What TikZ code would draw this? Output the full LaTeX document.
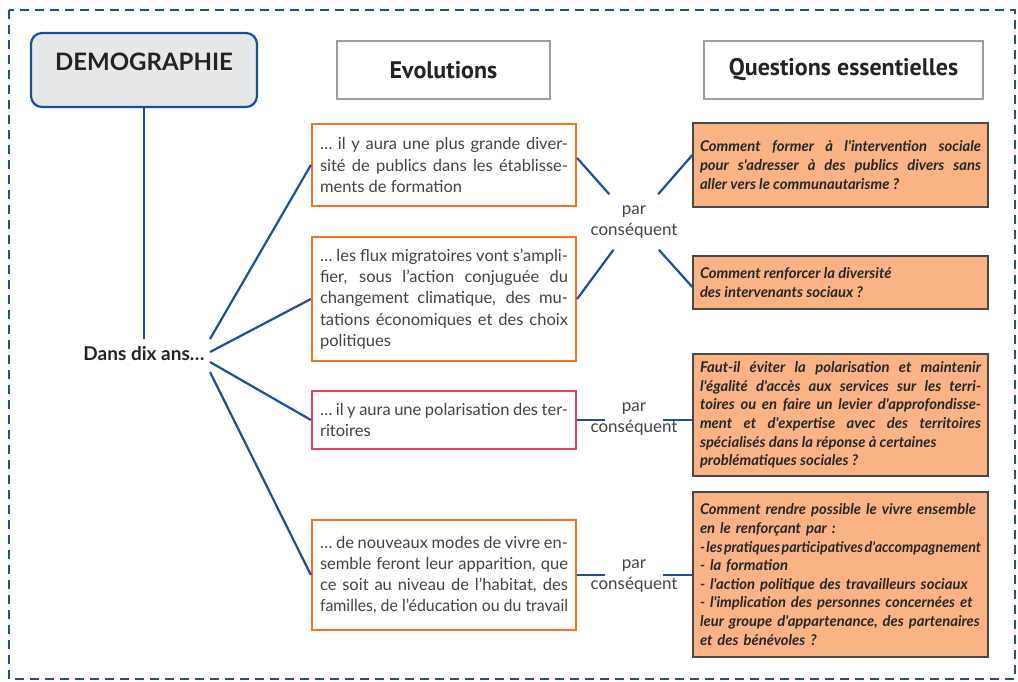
\documentclass[tikz,border=0pt]{standalone}
\usepackage{graphicx}
\usepackage{fontspec}
\setmainfont{Lato}
\newfontfamily\hdfont{PT Sans}
\newfontfamily\qfont{Lato}
\usetikzlibrary{calc}
\definecolor{lineblue}{RGB}{28,78,158}
\definecolor{evorange}{RGB}{243,115,35}
\definecolor{evpink}{RGB}{234,62,92}
\definecolor{qfill}{RGB}{249,179,132}
\definecolor{qborder}{RGB}{72,72,72}
\definecolor{hdgray}{RGB}{158,158,158}
\definecolor{demofill}{RGB}{231,232,233}
\definecolor{evtext}{RGB}{66,66,66}
\definecolor{qtext}{RGB}{38,38,38}
\definecolor{darktext}{RGB}{35,35,35}
\begin{document}
\begin{tikzpicture}[x=1pt,y=-1pt,
 conn/.style={draw=lineblue,line width=2.2pt},
 frame/.style={draw=lineblue,line width=2.5pt,dash pattern=on 9pt off 6pt},
 demobox/.style={draw=lineblue,line width=2.2pt,fill=demofill,rounded corners=11pt,minimum width=226pt,minimum height=74pt,font=\fontsize{24}{26}\selectfont\bfseries,text=darktext,text depth=16pt},
 hdbox/.style={draw=hdgray,line width=2pt,minimum height=58pt,font=\hdfont\fontsize{24}{26}\selectfont\bfseries,text=darktext},
 evbox/.style={draw=evorange,line width=2.2pt,text width=248pt,inner xsep=8pt,align=justify,minimum width=264pt,font=\fontsize{16.5}{21.3}\selectfont,text=evtext},
 qbox/.style={draw=qborder,fill=qfill,line width=1.4pt,text width=281pt,inner xsep=7pt,align=justify,minimum width=295pt,font=\qfont\fontsize{14.8}{18.6}\selectfont\bfseries\itshape,text=qtext},
 pcnode/.style={align=center,font=\fontsize{17}{21.5}\selectfont,text=evtext,inner sep=0pt},
 dansnode/.style={font=\fontsize{19}{21}\selectfont\bfseries,text=darktext,text height=14pt,text depth=3pt,inner ysep=7pt}
]
\useasboundingbox (0,0) rectangle (1018,681);
\draw[frame] (9,10) rectangle (1015,679);

\node[demobox] (demo) at (144,70) {DEMOGRAPHIE};
\node[hdbox,minimum width=213pt] (hev) at (443.5,70) {Evolutions};
\node[hdbox,minimum width=279pt] (hq) at (843.5,70) {Questions essentielles};

\node[dansnode] (dans) at (144,355) {Dans dix ans…};

\node[evbox,minimum height=82pt] (ev1) at (444,165) {\hyphenpenalty=10000 … il y aura une plus grande diver-\linebreak sité de publics dans les établisse-\linebreak ments de formation};
\node[evbox,minimum height=124pt] (ev2) at (444,299) {\hyphenpenalty=10000 … les flux migratoires vont s’ampli-\linebreak fier, sous l’action conjuguée du\linebreak changement climatique, des mu-\linebreak tations économiques et des choix\linebreak politiques};
\node[evbox,draw=evpink,minimum height=58pt] (ev3) at (444,420) {\hyphenpenalty=10000 … il y aura une polarisation des ter-\linebreak ritoires};
\node[evbox,minimum height=110pt] (ev4) at (444,575) {\hyphenpenalty=10000 … de nouveaux modes de vivre en-\linebreak semble feront leur apparition, que\linebreak ce soit au niveau de l’habitat, des\linebreak \resizebox{248pt}{\height}{familles, de l’éducation ou du travail}};

\node[qbox,minimum height=84pt] (q1) at (840.5,165) {\hyphenpenalty=10000 Comment former à l'intervention sociale\linebreak pour s'adresser à des publics divers sans\linebreak aller vers le communautarisme ?};
\node[qbox,minimum height=53pt] (q2) at (840.5,282.5) {Comment renforcer la diversité\\des intervenants sociaux ?};
\node[qbox,minimum height=122pt] (q3) at (840.5,415) {\hyphenpenalty=10000 Faut-il éviter la polarisation et maintenir\linebreak l'égalité d'accès aux services sur les terri-\linebreak toires ou en faire un levier d'approfondisse-\linebreak ment et d'expertise avec des territoires\linebreak spécialisés dans la réponse à certaines\\problématiques sociales ?};
\node[qbox,align=left,minimum height=165pt] (q4) at (840.5,574.5) {Comment rendre possible le vivre ensemble\\en le renforçant par :\\\resizebox{281pt}{\height}{\spaceskip=1.6pt\relax - les pratiques participatives d'accompagnement}\\- la formation\\- l'action politique des travailleurs sociaux\\- l'implication des personnes concernées et\\leur groupe d'appartenance, des partenaires\\et des bénévoles ?};

\node[pcnode,minimum height=55pt] (pc1) at (634,222) {par\\conséquent};
\node[pcnode] (pc2) at (634,419) {\makebox[58pt]{par}\\\makebox[58pt]{conséquent}};
\node[pcnode] (pc3) at (634,576) {\makebox[58pt]{par}\\\makebox[58pt]{conséquent}};

\coordinate (d1) at (210,339);
\coordinate (d2) at (210,352);
\coordinate (d3) at (210,362);
\coordinate (d4) at (210,372);

\draw[conn] (demo.south) -- (dans.north);
\draw[conn] (d1) -- (ev1.west);
\draw[conn] (d2) -- (ev2.west);
\draw[conn] (d3) -- (ev3.west);
\draw[conn] (d4) -- (ev4.west);

\draw[conn] ($(ev1.east)+(0,-7)$) -- (pc1);
\draw[conn] (ev2.east) -- (pc1);
\draw[conn] (pc1) -- ($(q1.west)+(0,-10)$);
\draw[conn] (pc1) -- ($(q2.west)+(0,4.5)$);

\draw[conn] (ev3.east) -- (pc2.west |- ev3.east);
\draw[conn] (pc2.east |- ev3.east) -- (q3.west |- ev3.east);
\draw[conn] (ev4.east) -- (pc3.west |- ev4.east);
\draw[conn] (pc3.east |- ev4.east) -- (q4.west |- ev4.east);
\end{tikzpicture}
\end{document}
